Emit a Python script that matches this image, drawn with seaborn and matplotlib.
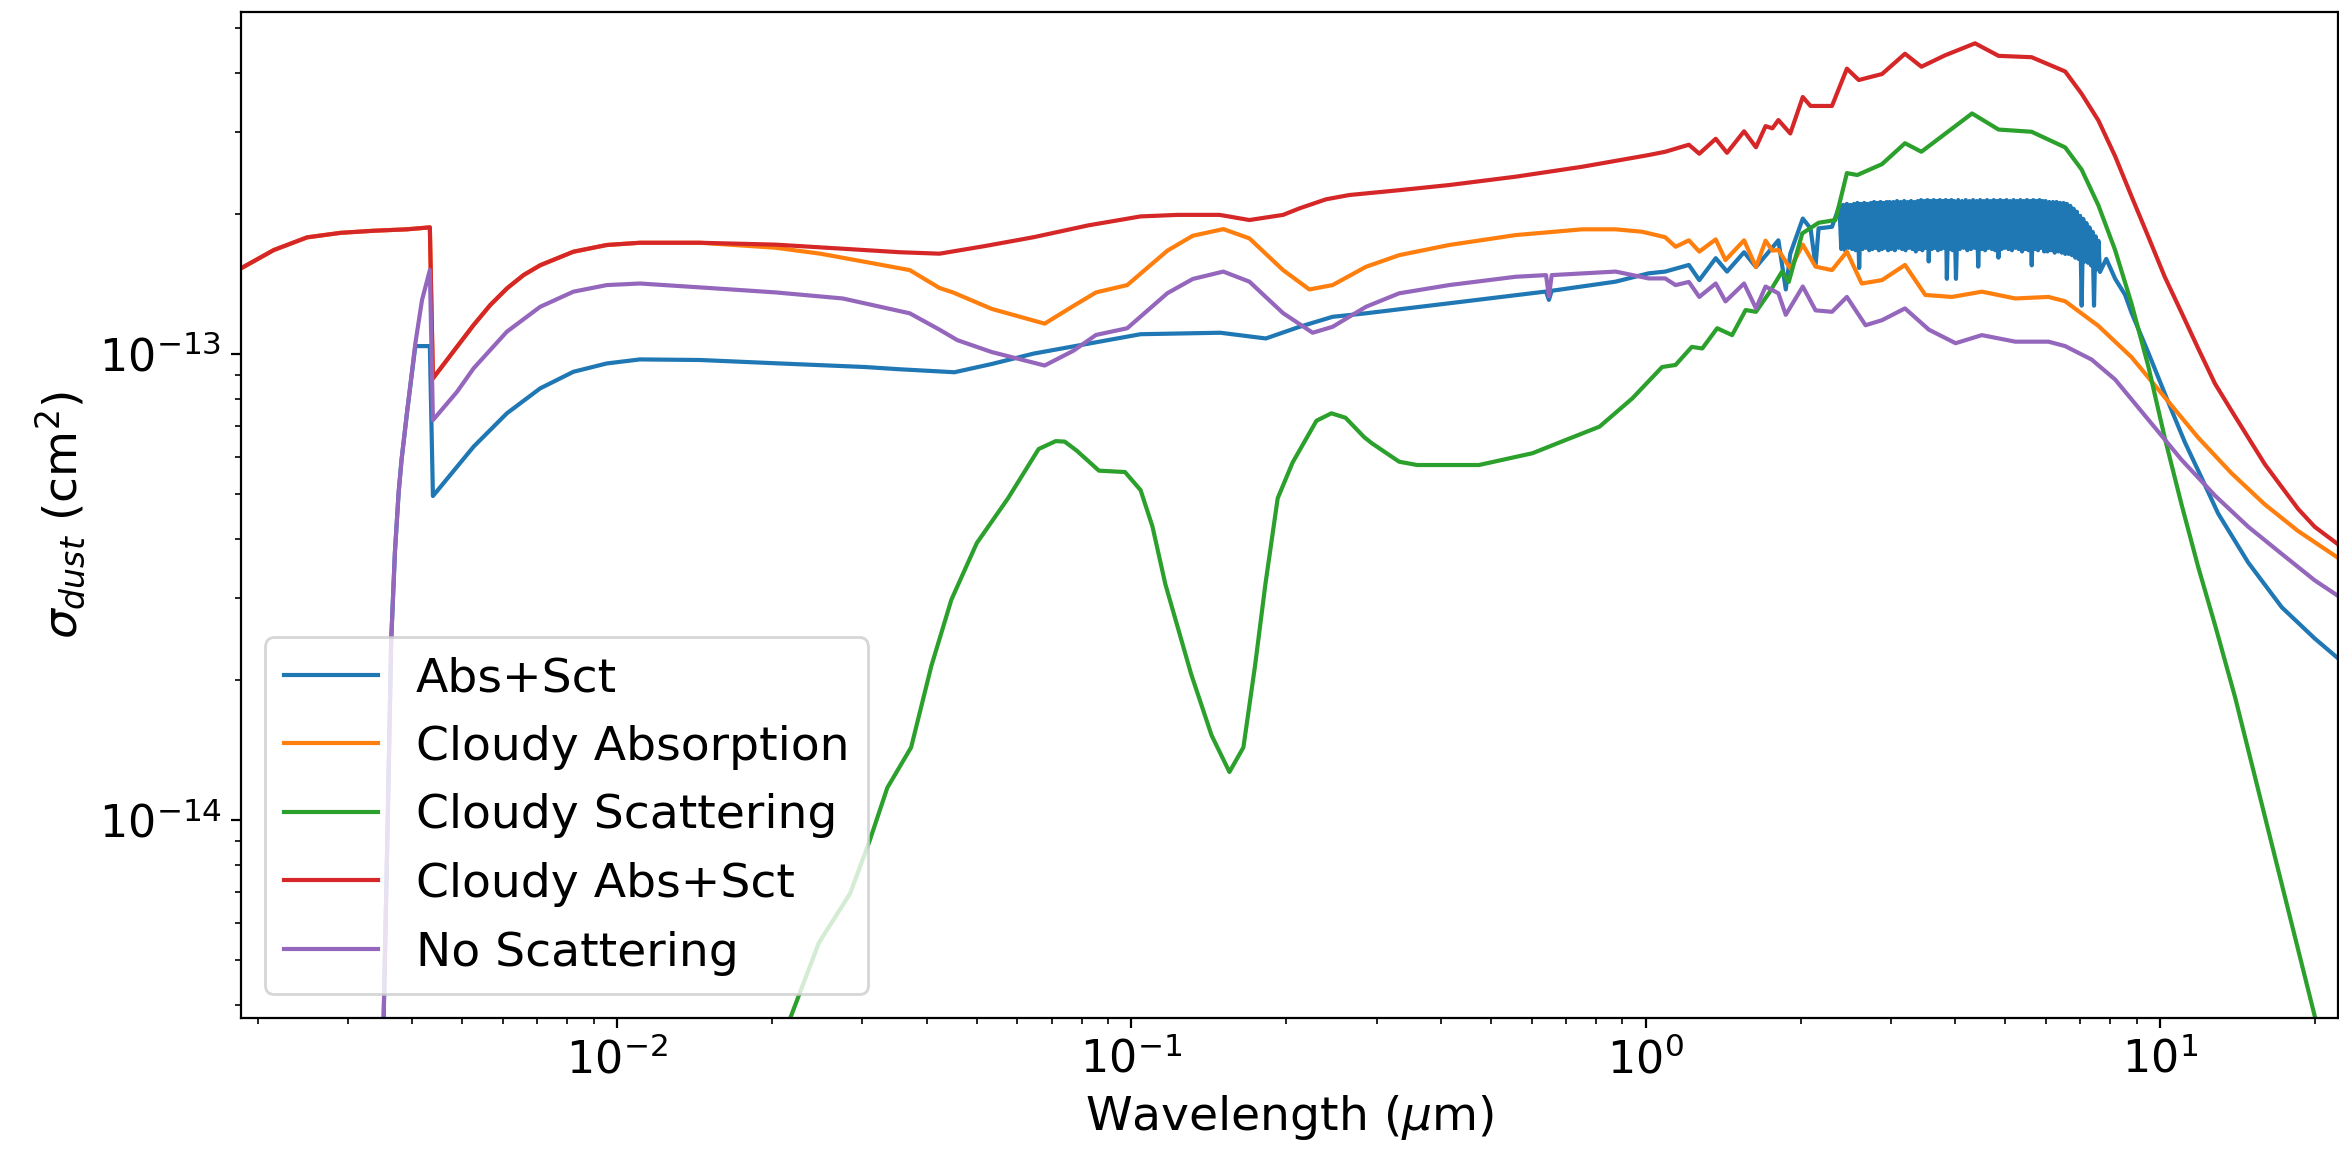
import numpy as np
import pandas as pd
import seaborn as sns
import matplotlib.pyplot as plt

# Wavelength in micron, cross sections in units of 1e-13 cm^2

# Abs+Sct
abs_sct_wl = [3.459e-3, 3.517e-3, 3.577e-3, 3.637e-3, 3.699e-3, 3.761e-3, 3.811e-3, 3.903e-3,
              4.053e-3, 4.325e-3, 4.385e-3, 4.885e-3, 5.260e-3, 6.107e-3, 7.089e-3, 8.225e-3,
              9.550e-3, 0.01108, 0.01450, 0.02033, 0.03034, 0.03538, 0.04528, 0.05350, 0.06449,
              0.1042, 0.1489, 0.1825, 0.2122, 0.2461, 0.2858, 0.4147, 0.6400, 0.6482, 0.6565,
              0.8738, 1.013, 1.091, 1.213, 1.271, 1.368, 1.439, 1.553, 1.638, 1.811, 1.872,
              1.910, 2.020, 2.091, 2.139, 2.168, 2.302]
abs_sct_val = [0.01832, 0.03772, 0.09268, 0.2416, 0.3759, 0.5049, 0.5939, 0.7462,
               1.040, 1.040, 0.4958, 0.5728, 0.6327, 0.7462, 0.8441, 0.9161,
               0.9546, 0.9738, 0.9710, 0.9554, 0.9379, 0.9276, 0.9140, 0.9519, 1.002,
               1.103, 1.111, 1.080, 1.144, 1.202, 1.223, 1.285, 1.362, 1.307, 1.367,
               1.430, 1.490, 1.503, 1.553, 1.441, 1.606, 1.503, 1.654, 1.537, 1.754, 1.376,
               1.642, 1.953, 1.861, 1.548, 1.861, 1.875]

# the noisy band of Abs+Sct between ~2.4 and ~7.7 micron
band_wl = [2.38, 2.40, 2.42, 2.44, 2.46, 2.48, 2.50, 2.52, 2.54, 2.56, 2.58, 2.60, 2.62, 2.64,
           2.66, 2.68, 2.70, 2.72, 2.74, 2.76, 2.78, 2.80, 2.82, 2.84, 2.86, 2.88, 2.90, 2.92,
           2.94, 2.96, 2.98,
           3.00, 3.03, 3.05, 3.08, 3.10, 3.13, 3.15, 3.18, 3.20, 3.23, 3.25, 3.28, 3.30, 3.33,
           3.35, 3.38, 3.40, 3.43, 3.45, 3.48, 3.50, 3.53, 3.55, 3.58, 3.60, 3.63, 3.65, 3.68,
           3.70, 3.73, 3.75, 3.78, 3.80, 3.83, 3.85, 3.88, 3.90, 3.93, 3.95, 3.98,
           4.01, 4.05, 4.08, 4.12, 4.15, 4.19, 4.22, 4.26, 4.29, 4.33, 4.36, 4.40, 4.43, 4.47,
           4.50, 4.54, 4.57, 4.61, 4.64, 4.68, 4.71, 4.75, 4.78, 4.82, 4.85, 4.89, 4.92, 4.96,
           4.99,
           5.03, 5.07, 5.11, 5.15, 5.19, 5.23, 5.27, 5.31, 5.35, 5.39, 5.43, 5.47, 5.51, 5.55,
           5.59, 5.63, 5.67, 5.71, 5.75, 5.79, 5.83, 5.87, 5.91, 5.95, 5.99,
           6.04, 6.09, 6.14, 6.19, 6.24, 6.29, 6.34, 6.39, 6.44, 6.49, 6.54, 6.59, 6.64, 6.69,
           6.74, 6.79, 6.84, 6.89, 6.94, 6.99, 7.04, 7.09, 7.14, 7.19, 7.24, 7.29, 7.34, 7.39,
           7.44, 7.49, 7.54, 7.59, 7.64]
band_val = [2.08, 1.68, 2.09, 1.67, 2.10, 1.69, 2.09, 1.68, 2.10, 1.67, 2.11, 1.53, 2.10, 1.68,
            2.11, 1.69, 2.10, 1.67, 2.11, 1.68, 2.12, 1.69, 2.11, 1.67, 2.12, 1.68, 2.11, 1.69,
            2.12, 1.67, 2.12,
            1.68, 2.12, 1.67, 2.13, 1.69, 2.12, 1.68, 2.13, 1.67, 2.12, 1.69, 2.13, 1.68, 2.12,
            1.66, 2.13, 1.68, 2.14, 1.67, 2.13, 1.69, 2.14, 1.58, 2.13, 1.68, 2.14, 1.69, 2.13,
            1.67, 2.14, 1.68, 2.13, 1.69, 2.14, 1.45, 2.13, 1.68, 2.14, 1.67, 2.13,
            1.45, 2.14, 1.68, 2.13, 1.69, 2.14, 1.67, 2.13, 1.68, 2.14, 1.69, 2.13, 1.54, 2.14,
            1.68, 2.13, 1.67, 2.14, 1.69, 2.13, 1.68, 2.14, 1.67, 2.13, 1.61, 2.14, 1.68, 2.13,
            1.69,
            2.14, 1.68, 2.13, 1.67, 2.14, 1.69, 2.13, 1.68, 2.14, 1.66, 2.13, 1.68, 2.14, 1.67,
            2.13, 1.55, 2.14, 1.68, 2.13, 1.67, 2.14, 1.69, 2.13, 1.66, 2.13,
            1.66, 2.12, 1.67, 2.12, 1.65, 2.12, 1.66, 2.11, 1.65, 2.11, 1.64, 2.10, 1.64, 2.08,
            1.63, 2.05, 1.61, 2.02, 1.60, 1.98, 1.27, 1.95, 1.58, 1.91, 1.57, 1.87, 1.55, 1.83,
            1.27, 1.79, 1.52, 1.75, 1.50]

tail_wl = [7.86, 8.18, 8.55, 8.80, 9.486, 10.37, 11.17, 12.04, 12.97, 14.84, 17.24, 19.98, 22.2]
tail_val = [1.60, 1.45, 1.34, 1.227, 1.007, 0.7892, 0.6473, 0.5428, 0.4547, 0.3569, 0.2862,
            0.2453, 0.2222]

# Cloudy Absorption
cl_abs_wl = [1.818e-3, 1.880e-3, 2.151e-3, 2.497e-3, 2.900e-3, 3.363e-3, 3.903e-3, 4.325e-3,
             4.385e-3, 4.885e-3, 5.260e-3, 5.668e-3, 6.107e-3, 6.577e-3, 7.089e-3, 8.225e-3,
             9.550e-3, 0.01108, 0.01450, 0.02033, 0.02484, 0.03034, 0.03707, 0.04235, 0.04498,
             0.05350, 0.06781, 0.07720, 0.08535, 0.09815, 0.1175, 0.1316, 0.1509, 0.1696,
             0.1972, 0.2218, 0.2461, 0.2858, 0.3316, 0.4147, 0.5585, 0.7525, 0.8738, 0.9840,
             1.091, 1.143, 1.213, 1.271, 1.368, 1.429, 1.553, 1.638, 1.710, 1.763, 1.811,
             1.910, 2.020, 2.139, 2.302, 2.461, 2.630, 2.880, 3.192, 3.496, 3.938, 4.503,
             5.230, 6.068, 6.539, 7.589, 8.800, 10.21, 11.86, 13.77, 15.99, 18.56, 22.2]
cl_abs_val = [1.51, 1.539, 1.672, 1.780, 1.820, 1.839, 1.852, 1.870,
              0.8867, 1.037, 1.154, 1.274, 1.383, 1.477, 1.551, 1.658,
              1.714, 1.733, 1.733, 1.691, 1.642, 1.577, 1.514, 1.386, 1.356,
              1.250, 1.162, 1.269, 1.356, 1.406, 1.667, 1.794, 1.854, 1.771,
              1.514, 1.376, 1.406, 1.539, 1.630, 1.714, 1.800, 1.852, 1.852, 1.830,
              1.781, 1.699, 1.754, 1.659, 1.762, 1.591, 1.754, 1.537, 1.751, 1.667, 1.672,
              1.526, 1.717, 1.540, 1.514, 1.658, 1.417, 1.441, 1.553, 1.339, 1.326, 1.361,
              1.316, 1.326, 1.298, 1.149, 0.9847, 0.8078, 0.6617, 0.5549, 0.4754, 0.4169, 0.3651]

# Cloudy Scattering
cl_sct_wl = [0.01780, 0.02174, 0.02468, 0.02838, 0.03095, 0.03353, 0.03730, 0.04083, 0.04467,
             0.05005, 0.05756, 0.06601, 0.07125, 0.07417, 0.07824, 0.08647, 0.09716, 0.1042,
             0.1099, 0.1164, 0.1307, 0.1432, 0.1551, 0.1651, 0.1739, 0.1822, 0.1925, 0.2058,
             0.2290, 0.2448, 0.2608, 0.2835, 0.2931, 0.3316, 0.3594, 0.4739, 0.6024, 0.6976,
             0.8131, 0.9419, 1.076, 1.143, 1.229, 1.288, 1.377, 1.472, 1.564, 1.638, 1.735,
             1.841, 1.897, 2.015, 2.168, 2.338, 2.461, 2.578, 2.880, 3.192, 3.435, 4.310,
             4.853, 5.627, 6.539, 7.040, 7.589, 8.177, 8.800, 9.486, 10.21, 11.01, 11.86,
             12.79, 13.98, 19.98, 22.39]
cl_sct_val = [0.02122, 0.03772, 0.05452, 0.06955, 0.09000, 0.1173, 0.1432, 0.2140, 0.2971,
              0.3930, 0.4903, 0.6254, 0.6503, 0.6488, 0.6208, 0.5620, 0.5582, 0.5105,
              0.4262, 0.3209, 0.2055, 0.1519, 0.1268, 0.1432, 0.2140, 0.3209, 0.4903, 0.5852,
              0.7193, 0.7462, 0.7299, 0.6633, 0.6440, 0.5874, 0.5779, 0.5779, 0.6126, 0.6535,
              0.6985, 0.8035, 0.9379, 0.9476, 1.036, 1.028, 1.136, 1.098, 1.243, 1.232, 1.350,
              1.503, 1.428, 1.815, 1.913, 1.939, 2.445, 2.422, 2.556, 2.834, 2.717, 3.283,
              3.032, 2.999, 2.776, 2.487, 2.084, 1.672, 1.283, 0.9421, 0.6617, 0.4754, 0.3493,
              0.2621, 0.1841, 0.03800, 0.02370]

# Cloudy Abs+Sct
cl_tot_wl = [1.818e-3, 1.880e-3, 2.151e-3, 2.497e-3, 2.900e-3, 3.363e-3, 3.903e-3, 4.325e-3,
             4.385e-3, 4.885e-3, 5.260e-3, 5.668e-3, 6.107e-3, 6.577e-3, 7.089e-3, 8.225e-3,
             9.550e-3, 0.01108, 0.01450, 0.02033, 0.02838, 0.03538, 0.04235, 0.05174, 0.06449,
             0.08254, 0.1042, 0.1231, 0.1484, 0.1696, 0.1972, 0.2122, 0.2390, 0.2652, 0.3316,
             0.4147, 0.5585, 0.7525, 1.013, 1.091, 1.213, 1.271, 1.368, 1.439, 1.553, 1.638,
             1.710, 1.763, 1.811, 1.910, 2.020, 2.091, 2.302, 2.461, 2.595, 2.880, 3.192,
             3.435, 3.822, 4.368, 4.853, 5.627, 6.539, 7.040, 7.589, 8.177, 8.800, 9.486,
             10.21, 11.01, 11.86, 12.79, 13.77, 14.84, 15.99, 17.22, 18.56, 19.98, 22.2]
cl_tot_val = [1.51, 1.539, 1.672, 1.780, 1.820, 1.839, 1.852, 1.870,
              0.8867, 1.037, 1.154, 1.274, 1.383, 1.477, 1.551, 1.658,
              1.714, 1.733, 1.733, 1.717, 1.679, 1.654, 1.642, 1.704, 1.781,
              1.889, 1.974, 1.989, 1.989, 1.939, 1.989, 2.054, 2.148, 2.194, 2.247,
              2.305, 2.402, 2.523, 2.673, 2.717, 2.813, 2.691, 2.897, 2.703, 3.006, 2.778,
              3.084, 3.050, 3.178, 2.974, 3.561, 3.407, 3.407, 4.097, 3.873, 3.989, 4.410,
              4.136, 4.377, 4.643, 4.364, 4.335, 4.040, 3.617, 3.170, 2.658, 2.180, 1.786,
              1.465, 1.227, 1.028, 0.8635, 0.7557, 0.6617, 0.5798, 0.5193, 0.4650, 0.4259, 0.3903]

# No Scattering
no_sct_wl = [3.459e-3, 3.517e-3, 3.577e-3, 3.637e-3, 3.699e-3, 3.761e-3, 3.811e-3, 3.903e-3,
             4.053e-3, 4.176e-3, 4.325e-3, 4.385e-3, 4.885e-3, 5.260e-3, 6.107e-3, 7.089e-3,
             8.225e-3, 9.550e-3, 0.01108, 0.01450, 0.02033, 0.02746, 0.03707, 0.04235, 0.04588,
             0.05350, 0.06781, 0.07720, 0.08535, 0.09815, 0.1175, 0.1316, 0.1509, 0.1696,
             0.1972, 0.2251, 0.2461, 0.2858, 0.3316, 0.4147, 0.5585, 0.6400, 0.6482, 0.6565,
             0.8738, 1.013, 1.091, 1.143, 1.213, 1.271, 1.368, 1.429, 1.553, 1.638, 1.710,
             1.811, 1.872, 2.020, 2.139, 2.302, 2.461, 2.675, 2.880, 3.192, 3.552, 4.004,
             4.503, 5.230, 6.068, 6.539, 7.362, 8.177, 9.486, 11.01, 12.79, 14.84, 17.22,
             19.98, 22.2]
no_sct_val = [0.01832, 0.03772, 0.09268, 0.2416, 0.3759, 0.5049, 0.5939, 0.7462,
              1.054, 1.306, 1.514, 0.7214, 0.8299, 0.9317, 1.117, 1.263,
              1.361, 1.406, 1.417, 1.390, 1.356, 1.316, 1.223, 1.128, 1.071,
              1.010, 0.9449, 1.017, 1.099, 1.136, 1.351, 1.449, 1.503, 1.430,
              1.224, 1.111, 1.144, 1.263, 1.350, 1.406, 1.465, 1.477, 1.33, 1.477,
              1.503, 1.453, 1.453, 1.406, 1.428, 1.326, 1.417, 1.297, 1.417, 1.253, 1.396,
              1.350, 1.214, 1.396, 1.241, 1.232, 1.326, 1.153, 1.182, 1.253, 1.128, 1.055,
              1.098, 1.063, 1.063, 1.040, 0.973, 0.8817, 0.7232, 0.5930, 0.4968, 0.4259, 0.3729,
              0.3269, 0.3025]

series = [
    ('Abs+Sct', abs_sct_wl + band_wl + tail_wl, abs_sct_val + band_val + tail_val),
    ('Cloudy Absorption', cl_abs_wl, cl_abs_val),
    ('Cloudy Scattering', cl_sct_wl, cl_sct_val),
    ('Cloudy Abs+Sct', cl_tot_wl, cl_tot_val),
    ('No Scattering', no_sct_wl, no_sct_val),
]
colors = sns.color_palette('tab10', 5)

fig = plt.figure(figsize=(2339 / 200, 1149 / 200), dpi=200)
ax = fig.add_axes([241 / 2339, 131 / 1149, 2096.5 / 2339, 1006 / 1149])
ax.set_xscale('log')
ax.set_yscale('log')

for (name, wl, val), c in zip(series, colors):
    sns.lineplot(x=np.array(wl), y=np.array(val) * 1e-13, label=name, color=c,
                 sort=False, estimator=None, linewidth=1.5, ax=ax)

ax.set_xlim(1.857e-3, 22.13)
ax.set_ylim(3.76e-15, 5.42e-13)
ax.set_xticks([1e-2, 1e-1, 1e0, 1e1])
ax.set_yticks([1e-14, 1e-13])
ax.set_xlabel(r'Wavelength ($\mu$m)', fontsize=17)
ax.set_ylabel(r'$\sigma_{dust}$ (cm$^2$)', fontsize=17)
ax.tick_params(labelsize=16)
ax.legend(loc='lower left', fontsize=17)

fig.savefig('out.png', dpi=200)
